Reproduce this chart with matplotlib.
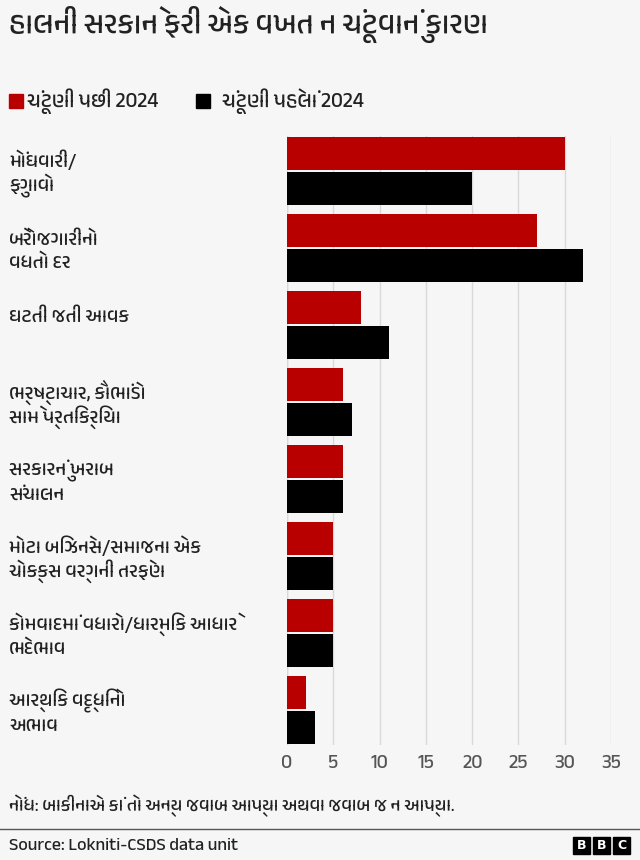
import matplotlib
matplotlib.use("Agg")
import matplotlib.pyplot as plt
from matplotlib import font_manager as fm
from matplotlib.patches import Rectangle
import matplotlib.transforms as mtransforms
import numpy as np

categories = [
    "મોંઘવારી/\nફુગાવો",
    "બેરોજગારીનો\nવધતો દર",
    "ઘટતી જતી આવક",
    "ભ્રષ્ટાચાર, કૌભાંડો\nસામે પ્રતિક્રિયા",
    "સરકારનું ખરાબ\nસંચાલન",
    "મોટા બિઝનેસ/સમાજના એક\nચોક્કસ વર્ગની તરફેણ",
    "કોમવાદમાં વધારો/ધાર્મિક આધારે\nભેદભાવ",
    "આર્થિક વૃદ્ધિનો\nઅભાવ",
]
after_2024 = [30, 27, 8, 6, 6, 5, 5, 2]
before_2024 = [20, 32, 11, 7, 6, 5, 5, 3]
series_names = ["ચૂંટણી પછી 2024", "ચૂંટણી પહેલાં 2024"]
xticks = [0, 5, 10, 15, 20, 25, 30, 35]
title = "હાલની સરકાને ફરી એક વખત ન ચૂંટવાનું કારણ"
note = "નોંધ: બાકીનાએ કાં તો અન્ય જવાબ આપ્યા અથવા જવાબ જ ન આપ્યા."
source = "Source: Lokniti-CSDS data unit"

# find a Gujarati-capable font if any is installed
guj = []
for f in fm.fontManager.ttflist:
    n = f.name
    if any(k in n for k in ("Gujarati", "Gujr", "Shruti", "Lohit", "Samyak", "Rekha", "Mukta Vaani", "Hind Vadodara")):
        if n not in guj:
            guj.append(n)
families = guj + ["Noto Sans", "DejaVu Sans"]
plt.rcParams['font.family'] = families

BG = "#f6f6f6"
RED = "#b80000"
BLACK = "#000000"
TXT = "#222222"

W, H = 640, 860
fig = plt.figure(figsize=(W / 100, H / 100), dpi=100, facecolor=BG)

def fx(px):
    return px / W

def fy(py):
    return 1 - py / H

ax_left, ax_right, ax_top, ax_bot = 287, 611, 136, 745
ax = fig.add_axes([fx(ax_left), fy(ax_bot), fx(ax_right - ax_left), (ax_bot - ax_top) / H])
ax.set_facecolor(BG)

n = len(categories)
pos = np.arange(n)
unit = 77.0
bh = 33 / unit
off = 35 / unit
pad = 17.5 / unit

ax.barh(pos, after_2024, height=bh, color=RED, zorder=3, align="center")
ax.barh(pos + off, before_2024, height=bh, color=BLACK, zorder=3, align="center")

ax.set_xlim(0, 35)
ax.set_ylim(n - 1 + off + pad, -pad)
ax.set_xticks(xticks)
ax.set_xticklabels([str(t) for t in xticks], fontsize=14, color="#555555")
ax.tick_params(axis="x", length=0, pad=7)
ax.set_yticks([])
for s in ax.spines.values():
    s.set_visible(False)
ax.grid(axis="x", color="#d9d9d9", linewidth=1, zorder=0)
ax.axvline(0, color="#cccccc", linewidth=1, zorder=1)

# category labels, one text per line on a baseline
trans = mtransforms.blended_transform_factory(fig.transFigure, ax.transData)
for i, lab in enumerate(categories):
    for j, line in enumerate(lab.split("\n")):
        ax.text(fx(9), i + (14 + 24 * j) / unit, line, transform=trans, ha="left",
                va="baseline", fontsize=14, color=TXT)

# title
fig.text(fx(9), fy(33), title, ha="left", va="baseline", fontsize=21.5, color=TXT)

# legend
fig.patches.append(Rectangle((fx(9), fy(108)), fx(14), 14 / H, transform=fig.transFigure, color=RED))
fig.text(fx(27), fy(107), series_names[0], ha="left", va="baseline", fontsize=15, color=TXT)
fig.patches.append(Rectangle((fx(196), fy(108)), fx(14), 14 / H, transform=fig.transFigure, color=BLACK))
fig.text(fx(222), fy(107), series_names[1], ha="left", va="baseline", fontsize=15, color=TXT)

# note
fig.text(fx(9), fy(811), note, ha="left", va="baseline", fontsize=13, color=TXT)

# separator line
fig.add_artist(plt.Line2D([0, 1], [fy(829), fy(829)], transform=fig.transFigure, color="#555555", linewidth=1))

# source
fig.text(fx(9), fy(850), source, ha="left", va="baseline", fontsize=12.8, color=TXT)

# BBC logo
for k, letter in enumerate("BBC"):
    x0 = 573 + k * 20
    fig.patches.append(Rectangle((fx(x0), fy(854)), fx(17), 17 / H, transform=fig.transFigure, color=BLACK))
    fig.text(fx(x0 + 8.5), fy(845.5), letter, ha="center", va="center", fontsize=9,
             fontweight="bold", color="white", family="DejaVu Sans")

fig.savefig("out.png", dpi=100, facecolor=BG)
